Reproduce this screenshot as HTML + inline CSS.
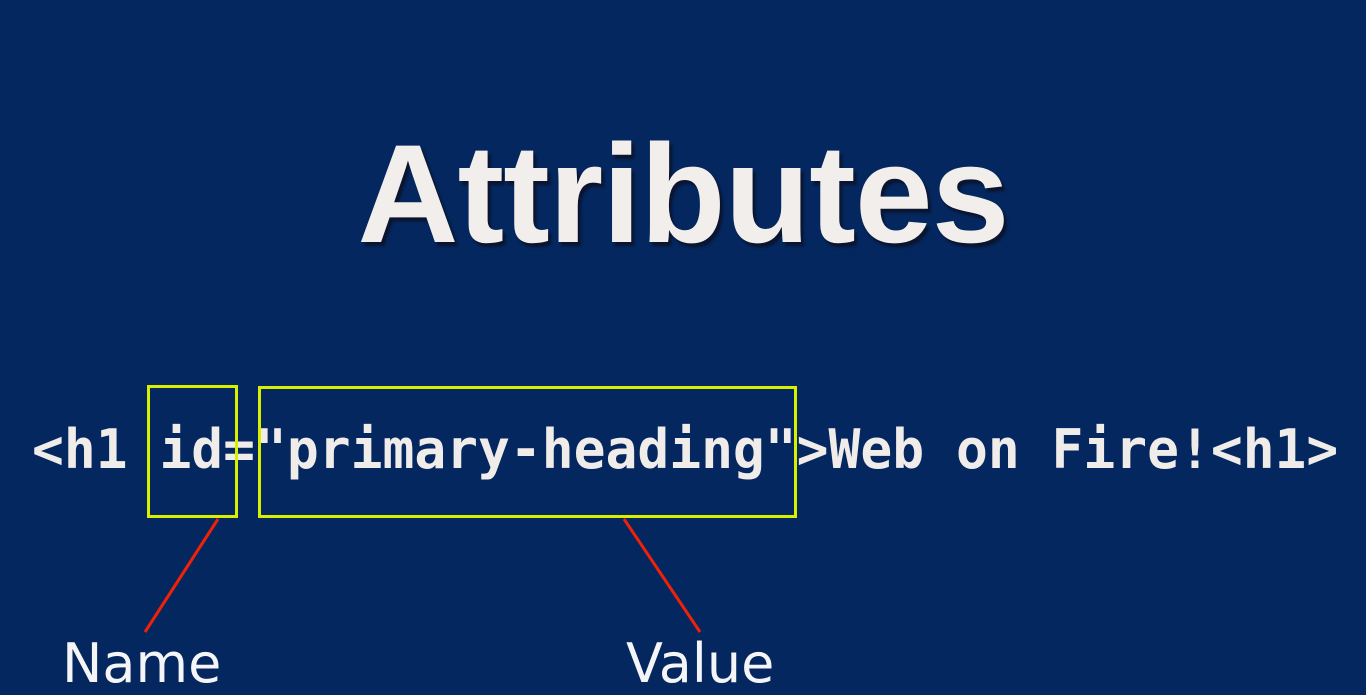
<!DOCTYPE html>
<html><head><meta charset="utf-8"><style>
html,body{margin:0;padding:0}
body{width:1366px;height:693px;background:#03275e;position:relative;overflow:hidden;font-family:"Liberation Sans",sans-serif}
.t{position:absolute;left:0;width:1366px;top:114px;text-align:center;font-weight:bold;font-size:140px;line-height:160px;color:#f2eeec;text-shadow:3px 4px 2px #0b1530;letter-spacing:-1px}
.c{position:absolute;left:32px;top:417px;font-family:"DejaVu Sans Mono",monospace;font-weight:bold;font-size:54px;line-height:66px;color:#f0ecea;white-space:pre;transform:scaleX(0.98);transform-origin:0 0}
.l{position:absolute;font-family:"DejaVu Sans",sans-serif;font-size:54px;line-height:60px;color:#f5f5f8}
</style></head><body>
<div class="t">Attributes</div>
<div class="c">&lt;h1 id="primary-heading"&gt;Web on Fire!&lt;h1&gt;</div>
<svg width="1366" height="693" style="position:absolute;left:0;top:0">
<rect x="148.5" y="386.5" width="88" height="130" fill="none" stroke="#d8f000" stroke-width="3"/>
<rect x="259.5" y="387.5" width="536" height="129" fill="none" stroke="#d8f000" stroke-width="3"/>
<line x1="218" y1="519" x2="145" y2="632" stroke="#f0200a" stroke-width="3"/>
<line x1="624" y1="519" x2="700" y2="632" stroke="#f0200a" stroke-width="3"/>
</svg>
<div class="l" style="left:62px;top:634px">Name</div>
<div class="l" style="left:626px;top:634px">Value</div>
</body></html>
